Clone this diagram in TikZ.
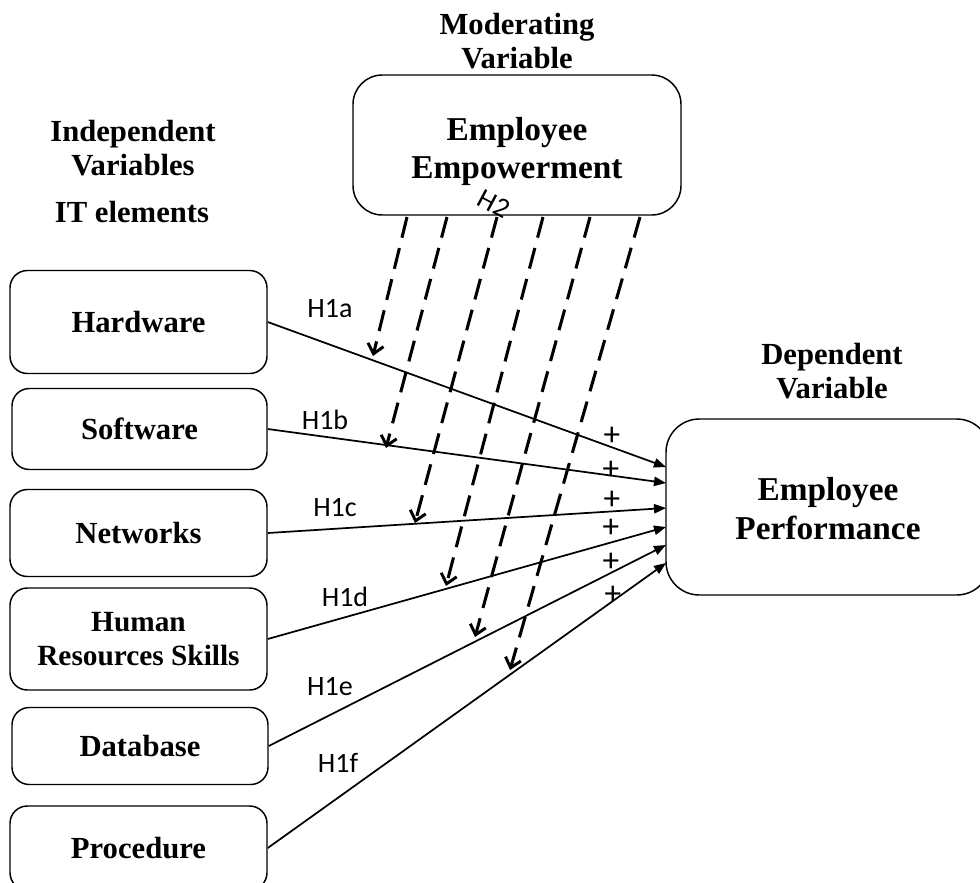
\documentclass[tikz,border=0pt]{standalone}
\usepackage{fontspec}
\setmainfont{Liberation Serif}
\newfontfamily\calfont{Carlito}
\usetikzlibrary{arrows.meta}
\begin{document}
\begin{tikzpicture}[x=0.75pt,y=-0.75pt,
 box/.style={draw,line width=1.1pt,rounded corners=13pt,inner sep=0pt,align=center,font=\fontsize{23}{26}\selectfont\bfseries},
 bigbox/.style={box,rounded corners=22pt,font=\fontsize{25}{29}\selectfont\bfseries},
 head/.style={align=center,inner sep=0pt,font=\fontsize{23}{25}\selectfont\bfseries},
 hlab/.style={inner sep=0pt,font=\calfont\fontsize{21}{24}\selectfont},
 plus/.style={inner sep=0pt,text height=6pt,text depth=3pt,font=\calfont\fontsize{25}{28}\selectfont},
 link/.style={line width=1.3pt,-{Triangle[length=9pt,width=7pt]}},
 mod/.style={line width=2.3pt,dash pattern=on 16pt off 8pt,-{Straight Barb[length=7pt,width=12pt,line width=2.2pt]}}
]
\useasboundingbox (0,0) rectangle (980,882);

% headers
\node[head] (hmod) at (517,41) {Moderating\\Variable};
\node[head] (hind) at (133,148) {Independent\\Variables};
\node[head] (hit) at (132,212) {IT elements};
\node[head] (hdep) at (832,371) {Dependent\\Variable};

% boxes
\node[bigbox,minimum width=328*0.75pt,minimum height=140*0.75pt] (ee) at (517,145) {\rule{0pt}{27pt}Employee\\Empowerment};
\node[bigbox,rounded corners=25pt,minimum width=324*0.75pt,minimum height=176*0.75pt] (ep) at (828,507) {\rule{0pt}{20pt}Employee\\Performance};

\node[box,minimum width=257*0.75pt,minimum height=103*0.75pt] (hw) at (138.5,322) {Hardware};
\node[box,minimum width=255*0.75pt,minimum height=81*0.75pt] (sw) at (139.5,429) {Software};
\node[box,minimum width=257*0.75pt,minimum height=87*0.75pt] (nw) at (138.5,533) {Networks};
\node[box,font=\fontsize{22}{25}\selectfont\bfseries,minimum width=257*0.75pt,minimum height=102*0.75pt] (hr) at (138.5,639) {Human\\Resources Skills};
\node[box,minimum width=256*0.75pt,minimum height=77*0.75pt] (db) at (140,746) {Database};
\node[box,minimum width=257*0.75pt,minimum height=84*0.75pt] (pr) at (138.5,848) {Procedure};

% target points on Employee Performance
\coordinate (p1) at (666,467);
\coordinate (p2) at (666,483);
\coordinate (p3) at (666,508);
\coordinate (p4) at (666,527);
\coordinate (p5) at (666,545);
\coordinate (p6) at (666,563);

\draw[link] (hw.east) -- (p1);
\draw[link] (sw.east) -- (p2);
\draw[link] (nw.east) -- (p3);
\draw[link] (hr.east) -- (p4);
\draw[link] (db.east) -- (p5);
\draw[link] (pr.east) -- (p6);

% moderating arrows
\coordinate (m1) at (407,217);
\coordinate (m2) at (447,217);
\coordinate (m3) at (497,217);
\coordinate (m4) at (543,217);
\coordinate (m5) at (590,217);
\coordinate (m6) at (640,217);
\coordinate (t1) at (373,356);
\coordinate (t2) at (386,448);
\coordinate (t3) at (415,523);
\coordinate (t4) at (446,586);
\coordinate (t5) at (475,637);
\coordinate (t6) at (510,670);
\draw[mod] (m1) -- (t1);
\draw[mod] (m2) -- (t2);
\draw[mod] (m3) -- (t3);
\draw[mod] (m4) -- (t4);
\draw[mod] (m5) -- (t5);
\draw[mod] (m6) -- (t6);

% labels
\node[hlab] (l1) at (330,309) {H1a};
\node[hlab] (l2) at (325,420) {H1b};
\node[hlab] (l3) at (335,508) {H1c};
\node[hlab] (l4) at (345,597) {H1d};
\node[hlab] (l5) at (330,687) {H1e};
\node[hlab] (l6) at (338,763) {H1f};
\node[hlab,rotate=-28,font=\calfont\fontsize{21}{24}\selectfont] (l7) at (494,204) {H2};

\node[plus] (s1) at (612,443) {+};
\node[plus] (s2) at (611,477) {+};
\node[plus] (s3) at (612,507) {+};
\node[plus] (s4) at (611,535) {+};
\node[plus] (s5) at (611,569) {+};
\node[plus] (s6) at (613,602) {+};
\end{tikzpicture}
\end{document}
